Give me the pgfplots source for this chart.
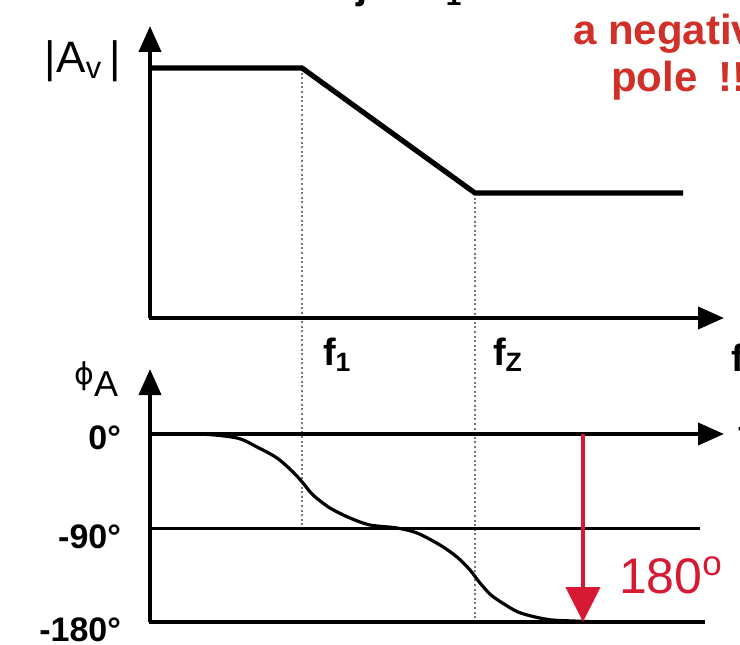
\documentclass[border=0pt]{standalone}
\usepackage{fontspec}
\setmainfont{Liberation Sans}
\newfontfamily\dejavu{DejaVu Sans}
\usepackage{pgfplots}
\pgfplotsset{compat=1.18}
\usetikzlibrary{arrows.meta}

\definecolor{notered}{RGB}{208,48,40}
\definecolor{arrowred}{RGB}{214,26,52}
\definecolor{guide}{RGB}{120,120,120}

% coordinates: one unit = one half point, origin at the lower left of the sheet
\pgfplotstableread{
x    y
150  576
302  576
475  451
683  451
}\magnitude

\pgfplotstableread{
x    y
150  210
200  210
237  206
257  197
277  186
293  172
303  161
313  149
330  136
350  126
370  119
397  116
417  111
440  99
457  87
470  74
480  61
491  49
504  40
518  32
535  27
552  24
573  23
600  22
}\phase

\tikzset{
  axarrow/.style={line width=2pt, -{Triangle[length=13pt,width=11pt]}},
  guideline/.style={guide, line width=0.7pt, dash pattern=on 1pt off 1.3pt},
  ticklab/.style={anchor=east, font=\bfseries\fontsize{17}{20}\selectfont},
  flab/.style={anchor=west, font=\bfseries\fontsize{19}{22}\selectfont},
}

\begin{document}
\begin{tikzpicture}
\path[use as bounding box, clip] (0,0) rectangle (370pt,322pt);
\begin{axis}[
  at={(0,0)}, anchor=south west,
  scale only axis, x=0.5pt, y=0.5pt,
  xmin=0, xmax=740, ymin=0, ymax=644,
  axis lines=none, ticks=none, clip=false,
]
% ---- magnitude plot ----
\addplot[guideline] coordinates {(302,576) (302,117)};
\addplot[guideline] coordinates {(475,451) (475,24)};
\addplot[axarrow] coordinates {(150,326) (150,618)};
\addplot[axarrow] coordinates {(149,326) (724,326)};
\addplot[black, line width=2.6pt, line join=miter] table {\magnitude};

% ---- phase plot ----
\addplot[black, line width=1.5pt] coordinates {(150,116) (700,116)};
\addplot[black, line width=2pt] coordinates {(149,22) (705,22)};
\addplot[axarrow] coordinates {(150,22) (150,275)};
\addplot[axarrow] coordinates {(149,210) (724,210)};
\addplot[black, line width=1.6pt, smooth] table {\phase};
\addplot[arrowred, line width=2.2pt, -{Triangle[length=17.5pt,width=17pt]}]
  coordinates {(583,210) (583,22)};

% ---- labels ----
\node[anchor=base west, font=\bfseries\fontsize{20}{24}\selectfont]
  at (282,645) {1\;+\;j\;f\;/\hspace{9pt}f\textsubscript{1}};
\node[anchor=east, font=\fontsize{22}{26}\selectfont] at (128,583)
  {|A\textsubscript{v}\,|};
\node[anchor=base west, inner sep=0pt] at (74,260)
  {{\dejavu\fontsize{15}{18}\selectfont ϕ}\raisebox{-6.5pt}{\fontsize{18}{22}\selectfont A}};
\node[ticklab] at (128,206) {0°};
\node[ticklab] at (128,107) {-90°};
\node[ticklab] at (128,14) {-180°};
\node[flab] at (316,289) {f\textsubscript{1}};
\node[flab] at (486,289) {f\textsubscript{Z}};
\node[flab] at (724,286) {f};
\node[flab] at (731,210) {f};
\node[anchor=west, text=arrowred, font=\fontsize{25}{30}\selectfont] at (612,69)
  {180\textsuperscript{o}};
\node[anchor=base west, text=notered, font=\bfseries\fontsize{21}{25}\selectfont]
  at (566,599) {a negative};
\node[anchor=base west, text=notered, font=\bfseries\fontsize{21}{25}\selectfont]
  at (604,552) {pole\enspace !!};
\end{axis}
\end{tikzpicture}
\end{document}
